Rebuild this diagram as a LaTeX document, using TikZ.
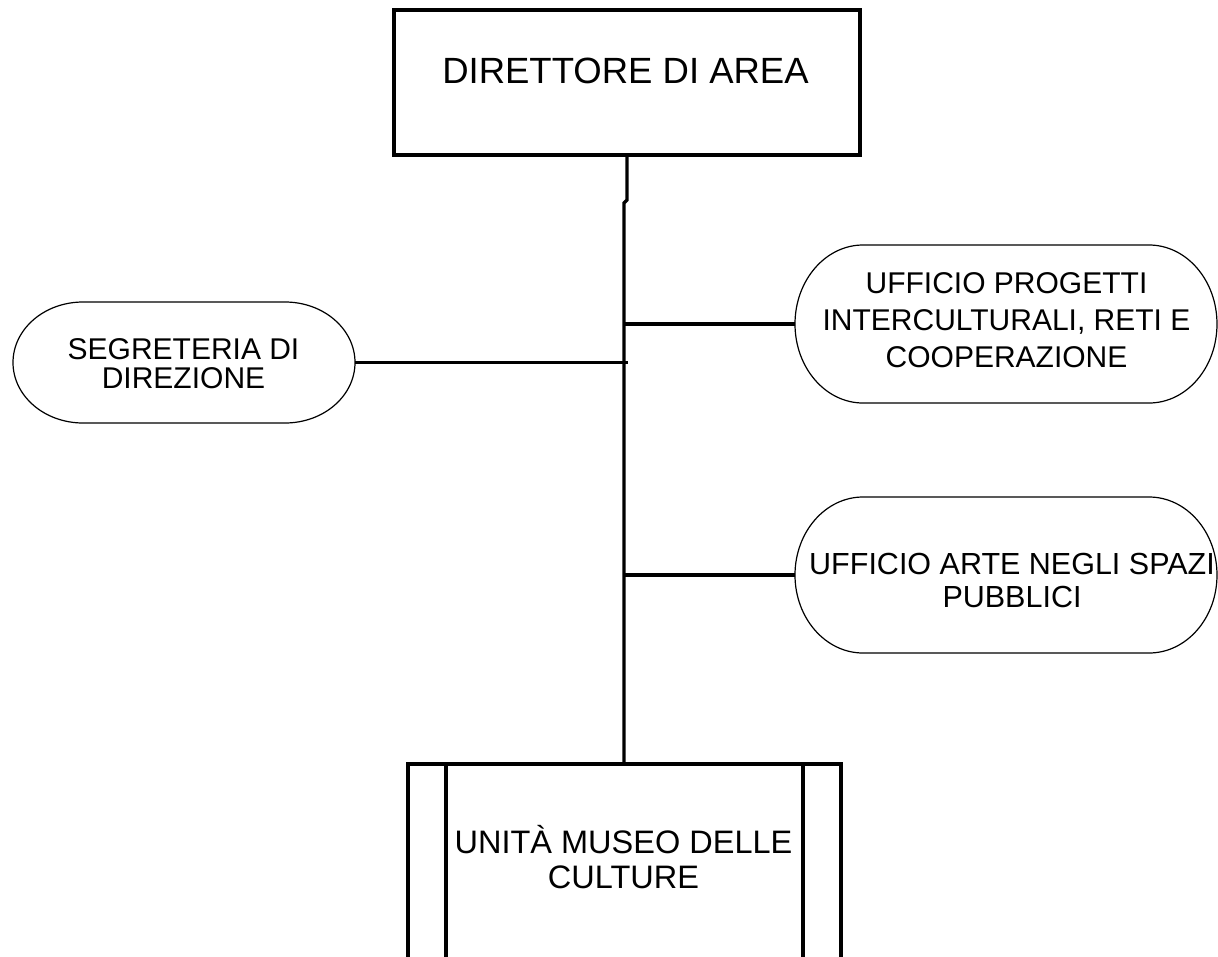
\documentclass[tikz,border=0pt]{standalone}
\usepackage{fontspec}
\setmainfont{Liberation Sans}
\usetikzlibrary{calc}
\newcommand{\stadiumoutline}[3]{%
  \draw[thinline] ($(#1.north west)+(#2pt,0)$) -- ($(#1.north east)+(-#2pt,0)$)
    arc[start angle=90,end angle=-90,x radius=#2pt,y radius=#3pt]
    -- ($(#1.south west)+(#2pt,0)$)
    arc[start angle=270,end angle=90,x radius=#2pt,y radius=#3pt] -- cycle;}
\tikzset{
  conn/.style={line width=3.3pt, line join=miter},
  boxstyle/.style={draw, rectangle, line width=3.3pt, inner sep=0pt, outer sep=0pt},
  stadium/.style={rectangle, inner sep=0pt, outer sep=0pt},
  thinline/.style={line width=1.2pt},
  txt/.style={align=center, inner sep=0pt},
}
\begin{document}
\begin{tikzpicture}[x=1pt,y=1pt]
\useasboundingbox (0,0) rectangle (1218,-956);
\fill[white] (0,0) rectangle (1218,-956);
\clip (0,0) rectangle (1218,-956);

% top box
\node[boxstyle, minimum width=466pt, minimum height=145pt] (dir) at (627,-82.5) {};
\node[txt, font=\fontsize{36.5}{40}\selectfont] (dirtext) at (625.5,-71) {DIRETTORE DI AREA};

% left stadium
\node[stadium, minimum width=342pt, minimum height=121pt] (seg) at (184,-362.5) {};
\stadiumoutline{seg}{70}{60.5}
\node[txt, font=\fontsize{30}{29}\selectfont] (segtext) at (183.5,-363.5) {SEGRETERIA DI\\DIREZIONE};

% right stadium 1
\node[stadium, minimum width=422pt, minimum height=158pt] (prog) at (1006,-324) {};
\stadiumoutline{prog}{68}{79}
\node[txt, font=\fontsize{30}{37}\selectfont] (progtext) at (1006.5,-320) {UFFICIO PROGETTI\\INTERCULTURALI, RETI E\\COOPERAZIONE};

% right stadium 2
\node[stadium, minimum width=422pt, minimum height=156pt] (arte) at (1006,-575) {};
\stadiumoutline{arte}{68}{78}
\node[txt, font=\fontsize{30.5}{33}\selectfont] (artetext) at (1012,-580.5) {UFFICIO ARTE NEGLI SPAZI\\PUBBLICI};

% bottom box
\node[boxstyle, minimum width=433pt, minimum height=300pt] (museo) at (624.5,-914) {};
\draw[conn] ($(museo.north west)+(38pt,0)$) -- ($(museo.south west)+(38pt,0)$);
\draw[conn] ($(museo.north east)+(-38pt,0)$) -- ($(museo.south east)+(-38pt,0)$);
\node[txt, font=\fontsize{32.5}{35}\selectfont] (museotext) at (623.5,-857.5) {UNITÀ MUSEO DELLE\\CULTURE};

% connectors
\coordinate (bend) at (627,-200);
\coordinate (trunk) at (624,-203);
\coordinate (segjoin) at (628,-362.5);
\draw[conn] (dir.south) -- (bend) -- (trunk) -- (trunk |- museo.north);
\draw[conn] (seg.east) -- (segjoin);
\draw[conn] (prog.west) -- (prog.west -| trunk);
\draw[conn] (arte.west) -- (arte.west -| trunk);
\end{tikzpicture}
\end{document}
